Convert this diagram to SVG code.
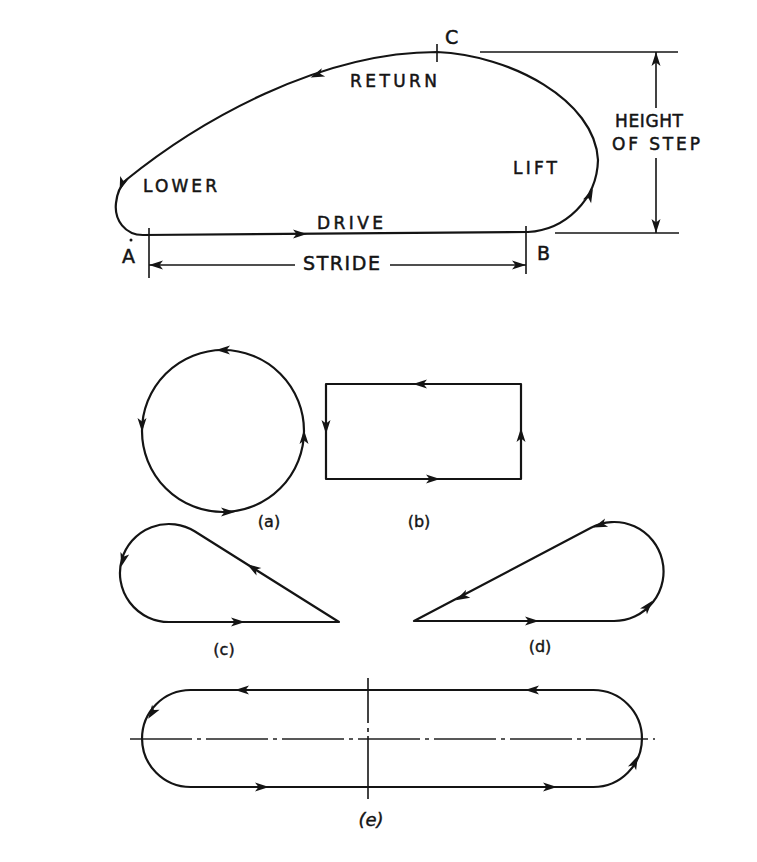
<svg xmlns="http://www.w3.org/2000/svg" xmlns:xlink="http://www.w3.org/1999/xlink" width="757" height="862" viewBox="0 0 757 862">
<style>
.ln{fill:none;stroke:#141414;stroke-width:2.2;stroke-linecap:round;stroke-linejoin:round}
.thin{fill:none;stroke:#141414;stroke-width:1.6;stroke-linecap:butt}
.cl{fill:none;stroke:#222;stroke-width:1.3;stroke-dasharray:62 5 4 5}
.lbl{font-family:"DejaVu Sans","Liberation Sans",sans-serif;font-size:17px;fill:#141414;stroke:#141414;stroke-width:0.5}
.big{font-family:"DejaVu Sans","Liberation Sans",sans-serif;font-size:19px;fill:#141414;stroke:#141414;stroke-width:0.5}
.cap{font-family:"DejaVu Sans","Liberation Sans",sans-serif;font-size:16px;fill:#141414;stroke:#141414;stroke-width:0.4;text-anchor:middle}
.ah{fill:#141414}
</style>
<defs>
<path id="ah" class="ah" d="M 7 0 L -7 -4.5 L -3.5 0 L -7 4.5 Z"/>
</defs>
<rect width="757" height="862" fill="#fff"/>

<g id="fig-main">
<path class="ln" d="M 143 235 C 125 235, 114 220, 116 203 C 117 193, 120 186, 126 180 C 200 120, 320 52, 437 52 C 510 55, 595 100, 598 160 C 597 200, 565 230, 528 232 Z"/>
<use xlink:href="#ah" transform="translate(300,234) rotate(0)"/>
<use xlink:href="#ah" transform="translate(317,75) rotate(158)"/>
<use xlink:href="#ah" transform="translate(122,184) rotate(110)"/>
<use xlink:href="#ah" transform="translate(590,195) rotate(-65)"/>
<text class="lbl" x="350" y="87" textLength="87" lengthAdjust="spacing">RETURN</text>
<text class="lbl" x="143" y="192" textLength="74" lengthAdjust="spacing">LOWER</text>
<text class="lbl" x="317" y="229" textLength="66" lengthAdjust="spacing">DRIVE</text>
<text class="lbl" x="513" y="174" textLength="44" lengthAdjust="spacing">LIFT</text>
<text class="big" x="122" y="263">A</text>
<circle cx="131" cy="240" r="1.5" fill="#141414"/>
<text class="big" x="537" y="260">B</text>
<text class="big" x="445" y="44">C</text>
</g>

<g id="dimensions">
<line class="thin" x1="437" y1="44" x2="437" y2="62"/>
<line class="thin" x1="149" y1="228" x2="149" y2="278"/>
<line class="thin" x1="526" y1="226" x2="526" y2="274"/>
<line class="thin" x1="149" y1="265" x2="295" y2="265"/>
<line class="thin" x1="390" y1="265" x2="526" y2="265"/>
<use xlink:href="#ah" transform="translate(156,265) rotate(180)"/>
<use xlink:href="#ah" transform="translate(519,265) rotate(0)"/>
<text class="big" x="303" y="270" textLength="77" lengthAdjust="spacing">STRIDE</text>
<line class="thin" x1="480" y1="52" x2="678" y2="52"/>
<line class="thin" x1="555" y1="233" x2="679" y2="233"/>
<line class="thin" x1="656" y1="52" x2="656" y2="108"/>
<line class="thin" x1="656" y1="158" x2="656" y2="233"/>
<use xlink:href="#ah" transform="translate(656,59) rotate(-90)"/>
<use xlink:href="#ah" transform="translate(656,226) rotate(90)"/>
<text class="lbl" x="615" y="127" textLength="68" lengthAdjust="spacing">HEIGHT</text>
<text class="lbl" x="612" y="150" textLength="88" lengthAdjust="spacing">OF STEP</text>
</g>

<g id="fig-a">
<circle class="ln" cx="223" cy="431" r="81"/>
<use xlink:href="#ah" transform="translate(223,350) rotate(180)"/>
<use xlink:href="#ah" transform="translate(142,425) rotate(90)"/>
<use xlink:href="#ah" transform="translate(228,512) rotate(0)"/>
<use xlink:href="#ah" transform="translate(304,437) rotate(-90)"/>
<text class="cap" x="269" y="527">(a)</text>
</g>

<g id="fig-b">
<rect class="ln" x="326" y="384" width="195" height="95"/>
<use xlink:href="#ah" transform="translate(420,384) rotate(180)"/>
<use xlink:href="#ah" transform="translate(326,427) rotate(90)"/>
<use xlink:href="#ah" transform="translate(433,479) rotate(0)"/>
<use xlink:href="#ah" transform="translate(521,435) rotate(-90)"/>
<text class="cap" x="419" y="527">(b)</text>
</g>

<g id="fig-c">
<path class="ln" d="M 339 622 L 195 531.5 A 49 49 0 1 0 169 622 Z"/>
<use xlink:href="#ah" transform="translate(253,568) rotate(-147.8)"/>
<use xlink:href="#ah" transform="translate(123,560) rotate(105)"/>
<use xlink:href="#ah" transform="translate(238,622) rotate(0)"/>
<text class="cap" x="224" y="655">(c)</text>
</g>

<g id="fig-d">
<path class="ln" d="M 414 621 L 614 621 A 49.5 49.5 0 1 0 591 527.7 Z"/>
<use xlink:href="#ah" transform="translate(532,621) rotate(0)"/>
<use xlink:href="#ah" transform="translate(648,606) rotate(-50)"/>
<use xlink:href="#ah" transform="translate(600,525) rotate(160)"/>
<use xlink:href="#ah" transform="translate(462,597) rotate(152.2)"/>
<text class="cap" x="540" y="652">(d)</text>
</g>

<g id="fig-e">
<line class="cl" x1="130" y1="739" x2="655" y2="739"/>
<line class="thin" x1="368" y1="678" x2="368" y2="723"/>
<line class="thin" x1="368" y1="728" x2="368" y2="732"/>
<line class="thin" x1="368" y1="736" x2="368" y2="799"/>
<path class="ln" d="M 190.5 690 L 593.5 690 A 48.5 48.5 0 0 1 593.5 787 L 190.5 787 A 48.5 48.5 0 0 1 190.5 690 Z"/>
<use xlink:href="#ah" transform="translate(242,690) rotate(180)"/>
<use xlink:href="#ah" transform="translate(532,690) rotate(180)"/>
<use xlink:href="#ah" transform="translate(262,787) rotate(0)"/>
<use xlink:href="#ah" transform="translate(550,787) rotate(0)"/>
<use xlink:href="#ah" transform="translate(152,713) rotate(123.5)"/>
<use xlink:href="#ah" transform="translate(635,762) rotate(-65)"/>
<text class="cap" x="371" y="826" style="font-style:italic;font-size:18px">(e)</text>
</g>
</svg>
